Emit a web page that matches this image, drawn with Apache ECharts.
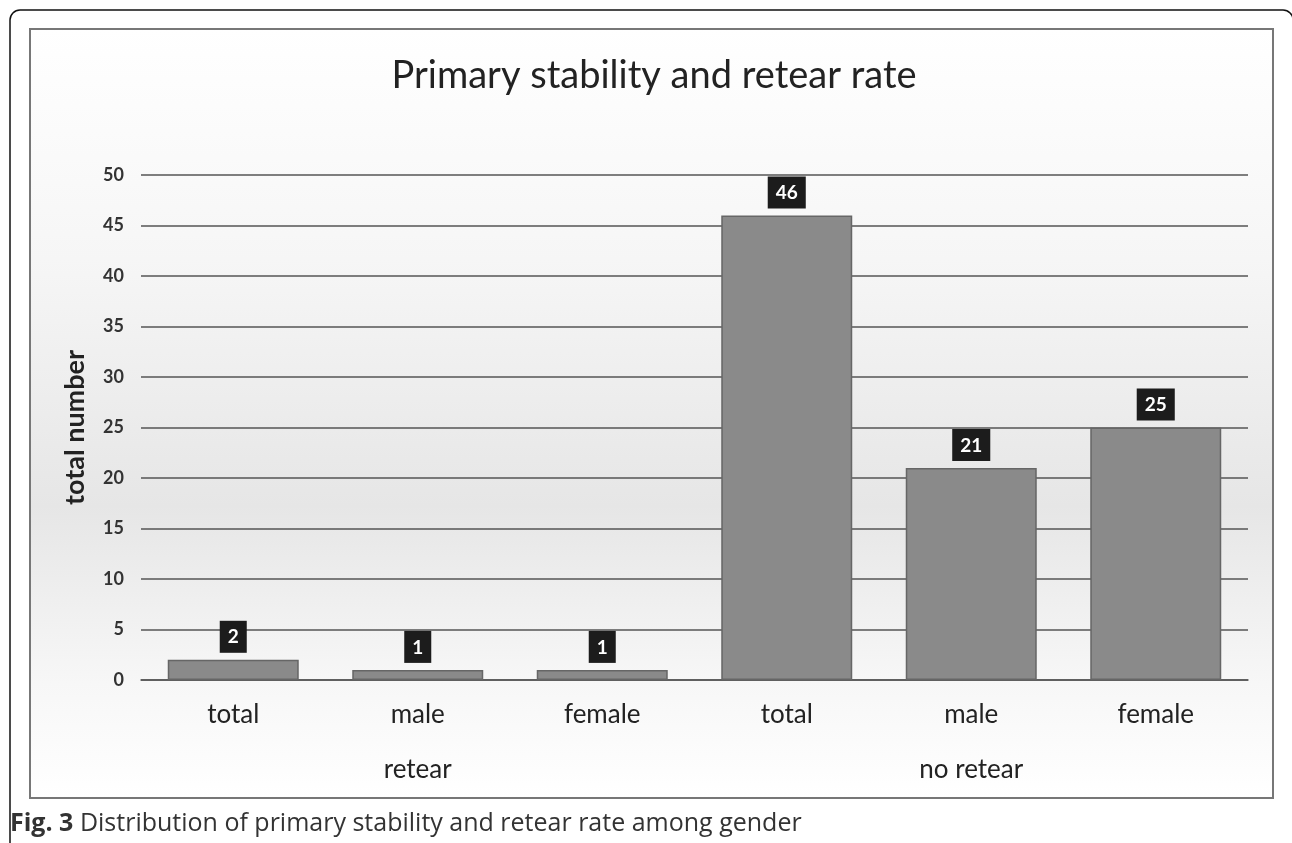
<!DOCTYPE html>
<html>
<head>
<meta charset="utf-8">
<script src="https://cdn.jsdelivr.net/npm/echarts@6/dist/echarts.min.js"></script>
<style>
  html, body { margin: 0; padding: 0; background: #fff; }
  #container { width: 1292px; height: 843px; }
</style>
</head>
<body>
<div id="container"></div>
<script>
var categories = ['total', 'male', 'female', 'total', 'male', 'female'];
var groups = ['retear', 'no retear'];
var counts = [2, 1, 1, 46, 21, 25];

var dom = document.getElementById("container");
var myChart = echarts.init(dom);
var option = {
    animation: false,
    textStyle: { fontFamily: 'Lato' },
    title: {
        text: 'Primary stability and retear rate',
        left: 649,
        top: 52,
        textAlign: 'center',
        textStyle: { fontSize: 38, fontWeight: 'normal', color: '#222', fontFamily: 'Lato' }
    },
    graphic: [
        // outer frame (top + left edge visible)
        { type: 'rect', z: -20, silent: true,
          shape: { x: 10, y: 10, width: 1283, height: 900, r: 10 },
          style: { fill: '#fff', stroke: '#111', lineWidth: 1.5 } },
        // chart area box with soft vertical gradient
        { type: 'rect', z: -10, silent: true,
          shape: { x: 30, y: 29, width: 1243, height: 769 },
          style: {
              stroke: '#777', lineWidth: 2,
              fill: new echarts.graphic.LinearGradient(0, 0, 0, 1, [
                  { offset: 0, color: '#ffffff' },
                  { offset: 0.3, color: '#f6f6f6' },
                  { offset: 0.62, color: '#e6e6e6' },
                  { offset: 0.85, color: '#f7f7f7' },
                  { offset: 1, color: '#ffffff' }
              ])
          } },
        { type: 'text', left: 10, top: 811,
          style: {
              text: '{b|Fig. 3} Distribution of primary stability and retear rate among gender',
              fontFamily: 'Open Sans', fontSize: 25, fill: '#333',
              rich: { b: { fontWeight: 'bold', fontSize: 25, fontFamily: 'Open Sans', fill: '#333' } }
          } }
    ],
    grid: { left: 141, right: 44, top: 175, bottom: 163 },
    xAxis: [
        {
            type: 'category',
            data: categories,
            axisLine: { show: true, lineStyle: { color: '#555', width: 1.5 } },
            axisTick: { show: false },
            axisLabel: { margin: 22, fontSize: 26, color: '#222', fontFamily: 'Lato' }
        },
        {
            type: 'category',
            data: groups,
            position: 'bottom',
            axisLine: { show: false },
            axisTick: { show: false },
            splitLine: { show: false },
            axisLabel: { margin: 77, fontSize: 26, color: '#222', fontFamily: 'Lato' }
        }
    ],
    yAxis: {
        type: 'value',
        min: 0,
        max: 50,
        interval: 5,
        name: 'total number',
        nameLocation: 'middle',
        nameRotate: 90,
        nameGap: 52,
        nameTextStyle: { fontSize: 27, fontWeight: 'bold', color: '#222', fontFamily: 'Lato' },
        axisLine: { show: false },
        axisTick: { show: false },
        axisLabel: { margin: 17, fontSize: 18, fontWeight: 'bold', color: '#333', fontFamily: 'Lato' },
        splitLine: { lineStyle: { color: '#555', width: 1.5 } }
    },
    series: [
        {
            name: 'total number',
            type: 'bar',
            xAxisIndex: 0,
            data: counts,
            barWidth: '71%',
            itemStyle: { color: '#8a8a8a', borderColor: '#666', borderWidth: 1.5 },
            label: {
                show: true,
                position: 'top',
                distance: 7,
                backgroundColor: '#1c1c1c',
                color: '#fff',
                fontWeight: 'bold',
                fontSize: 19,
                fontFamily: 'Lato',
                padding: [7, 8, 6, 8]
            }
        }
    ]
};
if (option && typeof option === "object") {
    myChart.setOption(option, true);
}
</script>
</body>
</html>
